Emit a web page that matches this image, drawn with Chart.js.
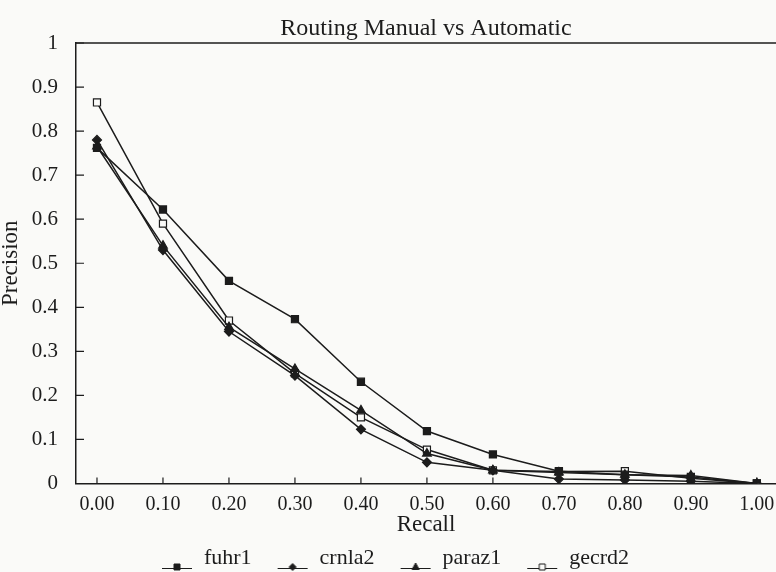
<!DOCTYPE html>
<html>
<head>
<meta charset="utf-8">
<script src="https://cdn.jsdelivr.net/npm/chart.js@4.4.1/dist/chart.umd.min.js"></script>
<style>
  html, body { margin: 0; padding: 0; background: #fafaf8; overflow: hidden; }
  #wrap { width: 776px; height: 572px; }
</style>
</head>
<body>
<div id="wrap"><canvas id="canvas" width="776" height="572"></canvas></div>
<script>
// recall points on the x axis
var recall = [0, 0.1, 0.2, 0.3, 0.4, 0.5, 0.6, 0.7, 0.8, 0.9, 1.0];
var xTickLabels = ['0.00', '0.10', '0.20', '0.30', '0.40', '0.50', '0.60', '0.70', '0.80', '0.90', '1.00'];
var yTickValues = [0, 0.1, 0.2, 0.3, 0.4, 0.5, 0.6, 0.7, 0.8, 0.9, 1];

// precision per run
var fuhr1  = [0.762, 0.622, 0.460, 0.373, 0.231, 0.119, 0.066, 0.028, 0.020, 0.015, 0];
var crnla2 = [0.780, 0.530, 0.345, 0.245, 0.123, 0.048, 0.030, 0.010, 0.008, 0.005, 0];
var paraz1 = [0.765, 0.540, 0.355, 0.260, 0.166, 0.068, 0.030, 0.025, 0.020, 0.018, 0];
var gecrd2 = [0.865, 0.590, 0.370, 0.250, 0.150, 0.077, 0.030, 0.027, 0.028, 0.012, 0];

var ink = '#1c1c1c';
var paper = '#fafaf8';
var fontFamily = '"Liberation Serif", "DejaVu Serif", serif';

function pts(arr) {
    var out = [];
    for (var i = 0; i < recall.length; i++) {
        out.push({x: recall[i], y: arr[i]});
    }
    return out;
}

// small line + marker picture for the legend (blank strip on the left = item gap)
function legendIcon(style, filled) {
    var c = document.createElement('canvas');
    c.width = 46; c.height = 26;
    var g = c.getContext('2d');
    g.strokeStyle = ink;
    g.lineWidth = 1;
    g.beginPath();
    g.moveTo(15, 23.5); g.lineTo(45, 23.5);
    g.stroke();
    g.fillStyle = filled ? ink : paper;
    g.beginPath();
    var cx = 30, cy = 22;
    if (style == 'rect') {
        g.rect(cx - 3, cy - 3, 6, 6);
    } else if (style == 'rectRot') {
        g.moveTo(cx, cy - 3.5); g.lineTo(cx + 3.5, cy); g.lineTo(cx, cy + 3.5); g.lineTo(cx - 3.5, cy); g.closePath();
    } else {
        g.moveTo(cx, cy - 4); g.lineTo(cx + 3.5, cy + 2.5); g.lineTo(cx - 3.5, cy + 2.5); g.closePath();
    }
    g.fill();
    g.stroke();
    return c;
}

function makeSet(name, arr, style, filled) {
    var r = 5;
    if (style == 'rectRot') r = 4.5;
    return {
        label: name,
        data: pts(arr),
        borderColor: ink,
        borderWidth: 1.5,
        pointStyle: style,
        pointRadius: r,
        pointBackgroundColor: filled ? ink : paper,
        pointBorderColor: ink,
        pointBorderWidth: 1.2,
        legendIcon: legendIcon(style, filled),
        tension: 0,
        fill: false
    };
}

// inner tick marks and the top frame line
var frame = {
    id: 'frame',
    afterDraw: function(chart) {
        var ctx = chart.ctx, a = chart.chartArea;
        var xs = chart.scales.x, ys = chart.scales.y;
        ctx.save();
        ctx.strokeStyle = ink;
        ctx.lineWidth = 1.5;
        ctx.beginPath();
        ctx.moveTo(a.left, a.top); ctx.lineTo(a.right, a.top);
        ctx.stroke();
        ctx.lineWidth = 1.2;
        ctx.beginPath();
        for (var i = 0; i < recall.length; i++) {
            var px = xs.getPixelForValue(recall[i]);
            ctx.moveTo(px, a.bottom); ctx.lineTo(px, a.bottom - 6);
        }
        for (var j = 0; j < yTickValues.length; j++) {
            var py = ys.getPixelForValue(yTickValues[j]);
            ctx.moveTo(a.left, py); ctx.lineTo(a.left + 8, py);
        }
        ctx.stroke();
        ctx.restore();
    }
};

var ctx = document.getElementById('canvas').getContext('2d');
window.myChart = new Chart(ctx, {
    type: 'line',
    data: {
        datasets: [
            makeSet('fuhr1', fuhr1, 'rect', true),
            makeSet('crnla2', crnla2, 'rectRot', true),
            makeSet('paraz1', paraz1, 'triangle', true),
            makeSet('gecrd2', gecrd2, 'rect', false)
        ]
    },
    options: {
        responsive: false,
        animation: false,
        layout: { autoPadding: false, padding: { top: 0, right: 0, bottom: -7, left: 0 } },
        plugins: {
            title: {
                display: true,
                fullSize: false,
                text: 'Routing Manual vs Automatic',
                color: ink,
                font: { family: fontFamily, size: 24, weight: 'normal', lineHeight: 1 },
                padding: { top: 17, bottom: 2 }
            },
            legend: {
                position: 'bottom',
                labels: {
                    color: ink,
                    font: { family: fontFamily, size: 22 },
                    usePointStyle: true,
                    pointStyleWidth: 46,
                    boxHeight: 22,
                    padding: 11,
                    generateLabels: function(chart) {
                        return chart.data.datasets.map(function(ds, i) {
                            return {
                                text: ds.label,
                                pointStyle: ds.legendIcon,
                                fillStyle: ink,
                                strokeStyle: ink,
                                lineWidth: 0,
                                fontColor: ink,
                                datasetIndex: i
                            };
                        });
                    }
                }
            },
            tooltip: { enabled: false }
        },
        scales: {
            x: {
                type: 'linear',
                min: -0.0318,
                max: 1.029,
                afterBuildTicks: function(scale) {
                    scale.ticks = recall.map(function(v) { return {value: v}; });
                },
                afterFit: function(scale) {
                    scale.height = 52.5;
                    scale.paddingLeft = 0;
                    scale.paddingRight = 0;
                },
                ticks: {
                    color: ink,
                    font: { family: fontFamily, size: 20 },
                    padding: 9,
                    maxRotation: 0,
                    autoSkip: false,
                    callback: function(v, i) { return xTickLabels[i]; }
                },
                grid: { display: false, drawTicks: false },
                border: { color: ink, width: 1.5 },
                title: {
                    display: true,
                    text: 'Recall',
                    color: ink,
                    font: { family: fontFamily, size: 23, lineHeight: 1 },
                    padding: { top: 0, bottom: 0 }
                }
            },
            y: {
                min: 0,
                max: 1,
                afterBuildTicks: function(scale) {
                    scale.ticks = yTickValues.map(function(v) { return {value: v}; });
                },
                afterFit: function(scale) { scale.width = 76; },
                ticks: {
                    color: ink,
                    font: { family: fontFamily, size: 21 },
                    padding: 18,
                    callback: function(v) {
                        if (v == 0) return '0';
                        if (v == 1) return '1';
                        return v.toFixed(1);
                    }
                },
                grid: { display: false, drawTicks: false },
                border: { color: ink, width: 1.5 },
                title: {
                    display: true,
                    text: 'Precision',
                    color: ink,
                    font: { family: fontFamily, size: 23, lineHeight: 1 },
                    padding: { top: -1, bottom: 0 }
                }
            }
        }
    },
    plugins: [frame]
});
</script>
</body>
</html>
